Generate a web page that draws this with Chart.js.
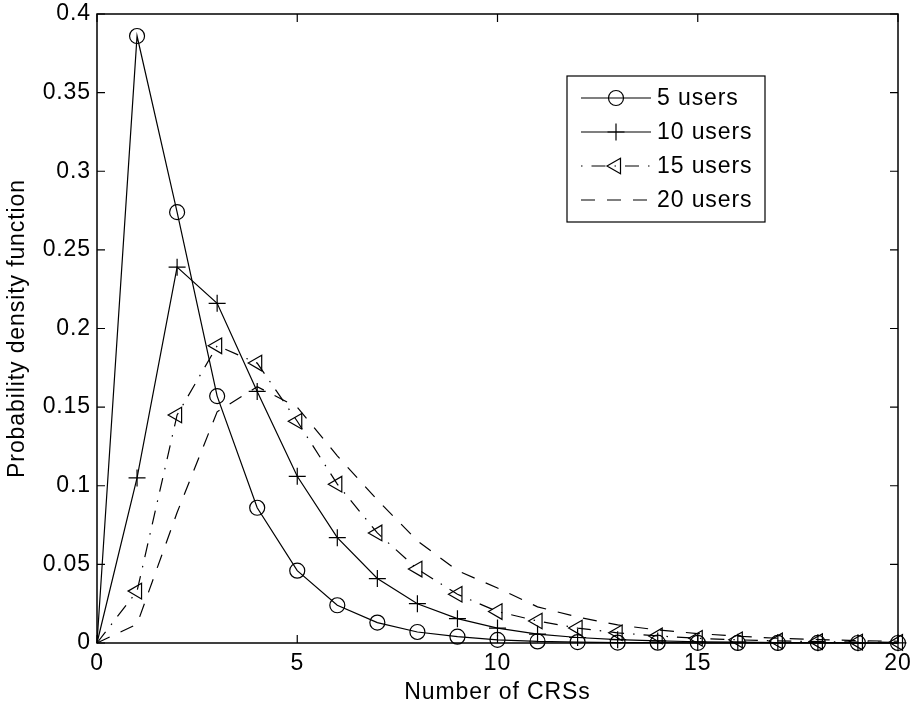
<!DOCTYPE html>
<html>
<head>
<meta charset="utf-8">
<script src="https://cdn.jsdelivr.net/npm/chart.js@4/dist/chart.umd.min.js"></script>
<style>
  html, body { margin: 0; padding: 0; background: #fff; }
  #wrap { width: 915px; height: 709px; }
</style>
</head>
<body>
<div id="wrap"><canvas id="grafico"></canvas></div>
<script>
// datos
var nCRS = [0,1,2,3,4,5,6,7,8,9,10,11,12,13,14,15,16,17,18,19,20];
var users5  = [0, 0.386, 0.274, 0.157, 0.086, 0.046, 0.024, 0.013, 0.007, 0.004, 0.002, 0.001, 0.0006, 0.0003, 0.0002, 0.0001, 0.00005, 0.00003, 0.00002, 0.00001, 0.00001];
var users10 = [0, 0.105, 0.239, 0.216, 0.160, 0.106, 0.067, 0.041, 0.025, 0.0155, 0.0095, 0.0057, 0.0035, 0.0021, 0.0013, 0.0008, 0.0005, 0.0003, 0.0002, 0.0001, 0.0001];
var users15 = [0, 0.033, 0.145, 0.189, 0.178, 0.141, 0.101, 0.070, 0.047, 0.031, 0.020, 0.014, 0.0095, 0.0065, 0.0045, 0.003, 0.002, 0.0013, 0.0009, 0.0006, 0.0004];
var users20 = [0, 0.012, 0.083, 0.147, 0.163, 0.150, 0.119, 0.091, 0.065, 0.046, 0.035, 0.023, 0.0165, 0.0115, 0.0083, 0.006, 0.0043, 0.003, 0.0022, 0.0015, 0.0011];
var etiquetas = ['5 users', '10 users', '15 users', '20 users'];
var xTicks = [0, 5, 10, 15, 20];
var yTicks = [0, 0.05, 0.1, 0.15, 0.2, 0.25, 0.3, 0.35, 0.4];

var fuente = 'Liberation Sans, Arial, Helvetica, sans-serif';
var tamFuente = 23;
var espaciado = '0.9px';

var puntos = function(ys){
  return nCRS.map(function(x, i){ return {x: x, y: ys[i]}; });
};
// sin marcador en x = 0
var radios = function(r){
  return nCRS.map(function(x){ return x === 0 ? 0 : r; });
};

var serie = function(label, ys, estilo, radio, rot, dash){
  return {
    label: label,
    data: puntos(ys),
    borderColor: '#000',
    backgroundColor: 'rgba(0,0,0,0)',
    borderWidth: 1.2,
    borderDash: dash,
    pointStyle: estilo,
    pointRadius: estilo ? radios(radio) : 0,
    pointRotation: rot,
    pointBorderColor: '#000',
    pointBackgroundColor: 'rgba(0,0,0,0)',
    pointBorderWidth: 1.2,
    tension: 0,
    clip: false
  };
};

//------------------------------------------------------------------------------
// espaciado de letras para parecerse a la fuente original
//------------------------------------------------------------------------------
var espaciar = {
  id: 'espaciar',
  beforeDraw: function(chart){
    if ('letterSpacing' in chart.ctx) chart.ctx.letterSpacing = espaciado;
  }
};

//------------------------------------------------------------------------------
// caja de ejes con marcas hacia adentro (estilo matlab)
//------------------------------------------------------------------------------
var cajaEjes = {
  id: 'cajaEjes',
  afterDatasetsDraw: function(chart){
    var ctx = chart.ctx, a = chart.chartArea;
    var sx = chart.scales.x, sy = chart.scales.y;
    var largo = 8;
    ctx.save();
    ctx.strokeStyle = '#000';
    ctx.lineWidth = 1.5;
    ctx.strokeRect(a.left, a.top, a.right - a.left, a.bottom - a.top);
    ctx.lineWidth = 1.2;
    ctx.beginPath();
    xTicks.forEach(function(v){
      var px = sx.getPixelForValue(v);
      ctx.moveTo(px, a.bottom); ctx.lineTo(px, a.bottom - largo);
      ctx.moveTo(px, a.top); ctx.lineTo(px, a.top + largo);
    });
    yTicks.forEach(function(v){
      var py = sy.getPixelForValue(v);
      ctx.moveTo(a.left, py); ctx.lineTo(a.left + largo, py);
      ctx.moveTo(a.right, py); ctx.lineTo(a.right - largo, py);
    });
    ctx.stroke();
    ctx.restore();
  }
};

//------------------------------------------------------------------------------
// leyenda con linea y marcador
//------------------------------------------------------------------------------
var leyenda = {
  id: 'leyenda',
  afterDraw: function(chart){
    var ctx = chart.ctx;
    var bx = 567, by = 76, bw = 198, bh = 146;
    ctx.save();
    ctx.fillStyle = '#fff';
    ctx.fillRect(bx, by, bw, bh);
    ctx.strokeStyle = '#000';
    ctx.lineWidth = 1.2;
    ctx.strokeRect(bx, by, bw, bh);
    ctx.font = tamFuente + 'px ' + fuente;
    ctx.textBaseline = 'middle';
    chart.data.datasets.forEach(function(ds, i){
      var y = by + 22 + i * 34;
      ctx.save();
      ctx.strokeStyle = '#000';
      ctx.fillStyle = 'rgba(0,0,0,0)';
      ctx.lineWidth = ds.borderWidth;
      ctx.setLineDash(ds.borderDash || []);
      ctx.lineDashOffset = ds.legendOffset || 0;
      ctx.beginPath();
      ctx.moveTo(bx + 14, y);
      ctx.lineTo(bx + 84, y);
      ctx.stroke();
      ctx.setLineDash([]);
      if (ds.pointStyle) {
        ctx.lineWidth = ds.pointBorderWidth;
        Chart.helpers.drawPoint(ctx, {
          pointStyle: ds.pointStyle,
          rotation: ds.pointRotation,
          radius: ds.pointRadius[1],
          borderWidth: ds.pointBorderWidth
        }, bx + 49, y);
      }
      ctx.restore();
      ctx.fillStyle = '#000';
      ctx.fillText(ds.label, bx + 90, y + 1);
    });
    ctx.restore();
  }
};

var s15 = serie(etiquetas[2], users15, 'triangle', 9, -90, [14, 9, 1.5, 9]);
s15.legendOffset = 23;

var ctx = document.getElementById('grafico').getContext('2d');
var grafico = new Chart(ctx, {
  type: 'line',
  data: {
    datasets: [
      serie(etiquetas[0], users5, 'circle', 7.5, 0, []),
      serie(etiquetas[1], users10, 'cross', 8.5, 0, []),
      s15,
      serie(etiquetas[3], users20, false, 0, 0, [14, 12])
    ]
  },
  options: {
    responsive: true,
    maintainAspectRatio: false,
    animation: false,
    layout: { padding: { left: 0, right: 17, top: 14, bottom: 0 } },
    plugins: {
      legend: { display: false },
      tooltip: { enabled: false }
    },
    scales: {
      x: {
        type: 'linear',
        min: 0, max: 20,
        afterFit: function(s){ s.height = 66; s.paddingLeft = 0; s.paddingRight = 0; },
        afterBuildTicks: function(s){ s.ticks = xTicks.map(function(v){ return {value: v}; }); },
        grid: { display: false, drawTicks: false },
        border: { display: false },
        ticks: { color: '#000', padding: 7, font: { family: fuente, size: tamFuente }, maxRotation: 0 },
        title: { display: true, text: 'Number of CRSs', color: '#000', font: { family: fuente, size: tamFuente }, padding: { top: 2, bottom: 3 } }
      },
      y: {
        type: 'linear',
        min: 0, max: 0.4,
        afterFit: function(s){ s.width = 97; s.paddingTop = 0; s.paddingBottom = 0; },
        afterBuildTicks: function(s){ s.ticks = yTicks.map(function(v){ return {value: v}; }); },
        grid: { display: false, drawTicks: false },
        border: { display: false },
        ticks: { color: '#000', padding: 6, font: { family: fuente, size: tamFuente },
          callback: function(v){ return String(Math.round(v * 100) / 100); } },
        title: { display: true, text: 'Probability density function', color: '#000', font: { family: fuente, size: tamFuente }, padding: { top: 4, bottom: 0 } }
      }
    }
  },
  plugins: [espaciar, cajaEjes, leyenda]
});
</script>
</body>
</html>
